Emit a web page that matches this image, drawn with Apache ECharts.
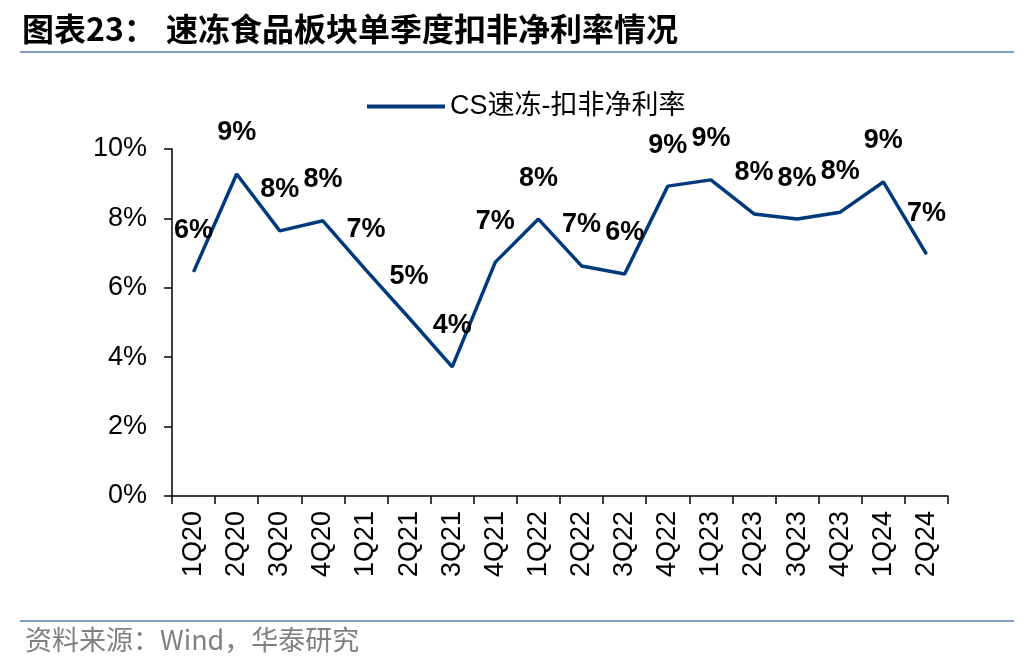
<!DOCTYPE html>
<html><head><meta charset="utf-8">
<script src="https://cdn.jsdelivr.net/npm/echarts@6/dist/echarts.min.js"></script>
<style>html,body{margin:0;padding:0;background:#fff}#c{width:1036px;height:672px}</style>
</head><body><div id="c"></div>
<script>
const categories = ['1Q20','2Q20','3Q20','4Q20','1Q21','2Q21','3Q21','4Q21','1Q22','2Q22','3Q22','4Q22','1Q23','2Q23','3Q23','4Q23','1Q24','2Q24'];
const netMargin = [6.46,9.28,7.64,7.93,6.51,5.13,3.72,6.74,7.98,6.63,6.40,8.93,9.11,8.13,7.98,8.18,9.05,6.97];
const yTicks = {min:0, max:10, interval:2};
const seriesName = 'CS速冻-扣非净利率';

const chart = echarts.init(document.getElementById('c'));
const latin = '"Liberation Sans", Arial, "Noto Sans CJK SC", sans-serif';
chart.setOption({
  animation:false,
  graphic:[
    {type:'text', left:22, top:13, style:{text:'图表23：', font:'bold 32px "Noto Sans CJK SC", sans-serif', fill:'#000'}},
    {type:'text', left:166, top:13, style:{text:'速冻食品板块单季度扣非净利率情况', font:'bold 32px "Noto Sans CJK SC", sans-serif', fill:'#000'}},
    {type:'rect', shape:{x:20,y:51,width:994,height:2}, style:{fill:'#7F9DC7'}},
    {type:'rect', shape:{x:20,y:620,width:994,height:2}, style:{fill:'#7F9DC7'}},
    {type:'text', left:25, top:626, style:{text:'资料来源：Wind，华泰研究', font:'27px "Noto Sans CJK SC", sans-serif', fill:'#808080'}}
  ],
  legend:{
    left:362, top:88, itemWidth:78, itemHeight:4, itemGap:8,
    textStyle:{fontSize:27, color:'#000', fontFamily:latin},
    data:[{name:seriesName, icon:'rect'}]
  },
  grid:{left:172, right:88, top:149, bottom:176, containLabel:false},
  xAxis:{
    type:'category', data:categories, boundaryGap:true,
    axisLine:{lineStyle:{color:'#000', width:1.5}},
    axisTick:{show:true, length:8, lineStyle:{color:'#000', width:1.5}},
    axisLabel:{rotate:90, fontSize:27, color:'#000', margin:15, fontFamily:latin}
  },
  yAxis:{
    type:'value', min:yTicks.min, max:yTicks.max, interval:yTicks.interval,
    splitLine:{show:false},
    axisLine:{show:true, lineStyle:{color:'#000', width:1.5}},
    axisTick:{show:true, length:8, lineStyle:{color:'#000', width:1.5}},
    axisLabel:{formatter:'{value}%', fontSize:27, color:'#000', margin:25, fontFamily:latin}
  },
  series:[{
    name:seriesName, type:'line', data:netMargin, symbol:'circle', symbolSize:1, showSymbol:true, showAllSymbol:true,
    lineStyle:{color:'#003A7D', width:3.5}, itemStyle:{color:'#003A7D'},
    label:{show:true, position:'top', distance:27, formatter:p=>Math.round(p.value)+'%',
      fontSize:27, fontWeight:'bold', color:'#000', fontFamily:latin},
    labelLayout:{hideOverlap:false}
  }]
});
</script></body></html>
